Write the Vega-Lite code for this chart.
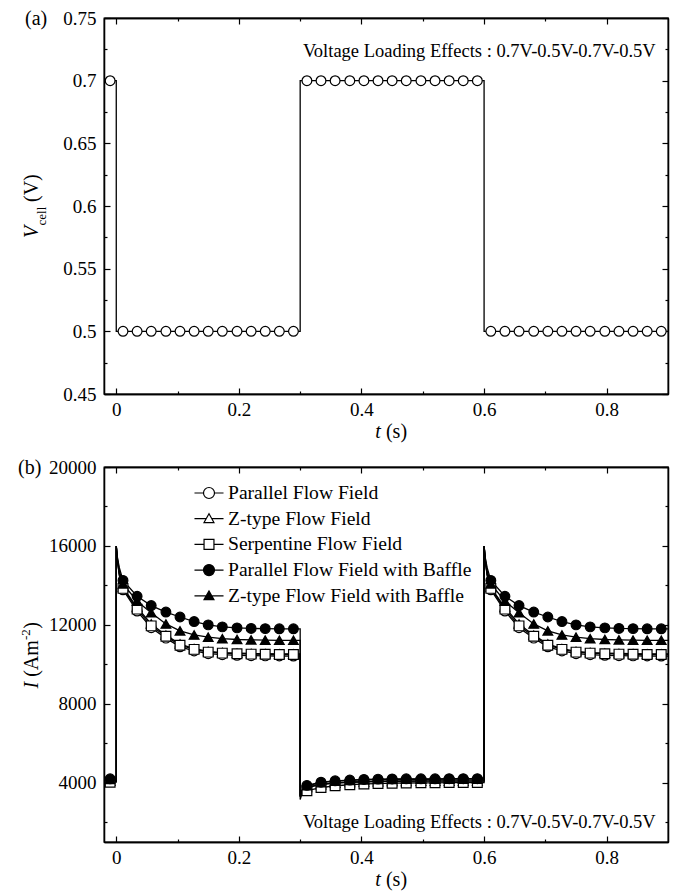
{
  "$schema": "https://vega.github.io/schema/vega-lite/v6.json",
  "background": "white",
  "padding": {"left": 17, "top": 8, "right": 10, "bottom": 5},
  "spacing": 14,
  "config": {
    "font": "Liberation Serif, Times New Roman, serif",
    "view": {"stroke": "black", "strokeWidth": 1.3},
    "axis": {
      "grid": false, "title": null,
      "labelFont": "Liberation Serif, Times New Roman, serif", "labelFontSize": 19, "labelColor": "black",
      "tickColor": "black", "tickWidth": 1.2,
      "domainColor": "black", "domainWidth": 1.3,
      "labelFlush": false, "labelOverlap": false
    },
    "text": {"font": "Liberation Serif, Times New Roman, serif"}
  },
  "datasets": {
    "vcell": [
      {"t": -0.01, "V": 0.7}, {"t": 0, "V": 0.7}, {"t": 0, "V": 0.5},
      {"t": 0.011, "V": 0.5}, {"t": 0.034, "V": 0.5}, {"t": 0.057, "V": 0.5}, {"t": 0.081, "V": 0.5},
      {"t": 0.104, "V": 0.5}, {"t": 0.127, "V": 0.5}, {"t": 0.15, "V": 0.5}, {"t": 0.173, "V": 0.5},
      {"t": 0.197, "V": 0.5}, {"t": 0.22, "V": 0.5}, {"t": 0.243, "V": 0.5}, {"t": 0.266, "V": 0.5},
      {"t": 0.289, "V": 0.5},
      {"t": 0.3, "V": 0.5}, {"t": 0.3, "V": 0.7},
      {"t": 0.311, "V": 0.7}, {"t": 0.334, "V": 0.7}, {"t": 0.357, "V": 0.7}, {"t": 0.381, "V": 0.7},
      {"t": 0.404, "V": 0.7}, {"t": 0.427, "V": 0.7}, {"t": 0.45, "V": 0.7}, {"t": 0.473, "V": 0.7},
      {"t": 0.497, "V": 0.7}, {"t": 0.52, "V": 0.7}, {"t": 0.543, "V": 0.7}, {"t": 0.566, "V": 0.7},
      {"t": 0.589, "V": 0.7},
      {"t": 0.6, "V": 0.7}, {"t": 0.6, "V": 0.5},
      {"t": 0.611, "V": 0.5}, {"t": 0.634, "V": 0.5}, {"t": 0.657, "V": 0.5}, {"t": 0.681, "V": 0.5},
      {"t": 0.704, "V": 0.5}, {"t": 0.727, "V": 0.5}, {"t": 0.75, "V": 0.5}, {"t": 0.773, "V": 0.5},
      {"t": 0.797, "V": 0.5}, {"t": 0.82, "V": 0.5}, {"t": 0.843, "V": 0.5}, {"t": 0.866, "V": 0.5},
      {"t": 0.889, "V": 0.5},
      {"t": 0.9, "V": 0.5}
    ],
    "current": [
      {"t": -0.01, "Parallel Flow Field": 4100, "Z-type Flow Field": 4080, "Serpentine Flow Field": 4030, "Parallel Flow Field with Baffle": 4200, "Z-type Flow Field with Baffle": 4170},
      {"t": 0, "Parallel Flow Field": 4100, "Z-type Flow Field": 4080, "Serpentine Flow Field": 4030, "Parallel Flow Field with Baffle": 4200, "Z-type Flow Field with Baffle": 4170},
      {"t": 0, "Parallel Flow Field": 16000, "Z-type Flow Field": 16000, "Serpentine Flow Field": 16000, "Parallel Flow Field with Baffle": 16000, "Z-type Flow Field with Baffle": 16000},
      {"t": 0.002, "Parallel Flow Field": 15200, "Z-type Flow Field": 15250, "Serpentine Flow Field": 15250, "Parallel Flow Field with Baffle": 15400, "Z-type Flow Field with Baffle": 15350},
      {"t": 0.005, "Parallel Flow Field": 14500, "Z-type Flow Field": 14600, "Serpentine Flow Field": 14550, "Parallel Flow Field with Baffle": 14900, "Z-type Flow Field with Baffle": 14750},
      {"t": 0.011, "Parallel Flow Field": 13780, "Z-type Flow Field": 13900, "Serpentine Flow Field": 13850, "Parallel Flow Field with Baffle": 14250, "Z-type Flow Field with Baffle": 14080},
      {"t": 0.034, "Parallel Flow Field": 12700, "Z-type Flow Field": 12880, "Serpentine Flow Field": 12800, "Parallel Flow Field with Baffle": 13450, "Z-type Flow Field with Baffle": 13200},
      {"t": 0.057, "Parallel Flow Field": 11860, "Z-type Flow Field": 12050, "Serpentine Flow Field": 11950, "Parallel Flow Field with Baffle": 12980, "Z-type Flow Field with Baffle": 12620},
      {"t": 0.081, "Parallel Flow Field": 11330, "Z-type Flow Field": 11480, "Serpentine Flow Field": 11420, "Parallel Flow Field with Baffle": 12650, "Z-type Flow Field with Baffle": 12050},
      {"t": 0.104, "Parallel Flow Field": 10890, "Z-type Flow Field": 11030, "Serpentine Flow Field": 10970, "Parallel Flow Field with Baffle": 12400, "Z-type Flow Field with Baffle": 11700},
      {"t": 0.127, "Parallel Flow Field": 10680, "Z-type Flow Field": 10800, "Serpentine Flow Field": 10760, "Parallel Flow Field with Baffle": 12170, "Z-type Flow Field with Baffle": 11490},
      {"t": 0.15, "Parallel Flow Field": 10540, "Z-type Flow Field": 10660, "Serpentine Flow Field": 10620, "Parallel Flow Field with Baffle": 12000, "Z-type Flow Field with Baffle": 11380},
      {"t": 0.173, "Parallel Flow Field": 10490, "Z-type Flow Field": 10600, "Serpentine Flow Field": 10570, "Parallel Flow Field with Baffle": 11900, "Z-type Flow Field with Baffle": 11300},
      {"t": 0.197, "Parallel Flow Field": 10460, "Z-type Flow Field": 10570, "Serpentine Flow Field": 10540, "Parallel Flow Field with Baffle": 11850, "Z-type Flow Field with Baffle": 11260},
      {"t": 0.22, "Parallel Flow Field": 10440, "Z-type Flow Field": 10550, "Serpentine Flow Field": 10520, "Parallel Flow Field with Baffle": 11820, "Z-type Flow Field with Baffle": 11240},
      {"t": 0.243, "Parallel Flow Field": 10430, "Z-type Flow Field": 10540, "Serpentine Flow Field": 10510, "Parallel Flow Field with Baffle": 11810, "Z-type Flow Field with Baffle": 11230},
      {"t": 0.266, "Parallel Flow Field": 10425, "Z-type Flow Field": 10535, "Serpentine Flow Field": 10505, "Parallel Flow Field with Baffle": 11800, "Z-type Flow Field with Baffle": 11220},
      {"t": 0.289, "Parallel Flow Field": 10420, "Z-type Flow Field": 10530, "Serpentine Flow Field": 10500, "Parallel Flow Field with Baffle": 11800, "Z-type Flow Field with Baffle": 11220},
      {"t": 0.3, "Parallel Flow Field": 10420, "Z-type Flow Field": 10530, "Serpentine Flow Field": 10500, "Parallel Flow Field with Baffle": 11800, "Z-type Flow Field with Baffle": 11220},
      {"t": 0.3, "Parallel Flow Field": 3300, "Z-type Flow Field": 3280, "Serpentine Flow Field": 3150, "Parallel Flow Field with Baffle": 3350, "Z-type Flow Field with Baffle": 3330},
      {"t": 0.302, "Parallel Flow Field": 3500, "Z-type Flow Field": 3480, "Serpentine Flow Field": 3350, "Parallel Flow Field with Baffle": 3560, "Z-type Flow Field with Baffle": 3540},
      {"t": 0.305, "Parallel Flow Field": 3650, "Z-type Flow Field": 3630, "Serpentine Flow Field": 3480, "Parallel Flow Field with Baffle": 3720, "Z-type Flow Field with Baffle": 3700},
      {"t": 0.311, "Parallel Flow Field": 3780, "Z-type Flow Field": 3760, "Serpentine Flow Field": 3600, "Parallel Flow Field with Baffle": 3870, "Z-type Flow Field with Baffle": 3850},
      {"t": 0.334, "Parallel Flow Field": 3930, "Z-type Flow Field": 3910, "Serpentine Flow Field": 3760, "Parallel Flow Field with Baffle": 4030, "Z-type Flow Field with Baffle": 4010},
      {"t": 0.357, "Parallel Flow Field": 4000, "Z-type Flow Field": 3980, "Serpentine Flow Field": 3850, "Parallel Flow Field with Baffle": 4100, "Z-type Flow Field with Baffle": 4080},
      {"t": 0.381, "Parallel Flow Field": 4040, "Z-type Flow Field": 4020, "Serpentine Flow Field": 3900, "Parallel Flow Field with Baffle": 4140, "Z-type Flow Field with Baffle": 4120},
      {"t": 0.404, "Parallel Flow Field": 4060, "Z-type Flow Field": 4040, "Serpentine Flow Field": 3940, "Parallel Flow Field with Baffle": 4170, "Z-type Flow Field with Baffle": 4150},
      {"t": 0.427, "Parallel Flow Field": 4080, "Z-type Flow Field": 4060, "Serpentine Flow Field": 3960, "Parallel Flow Field with Baffle": 4185, "Z-type Flow Field with Baffle": 4165},
      {"t": 0.45, "Parallel Flow Field": 4090, "Z-type Flow Field": 4070, "Serpentine Flow Field": 3980, "Parallel Flow Field with Baffle": 4195, "Z-type Flow Field with Baffle": 4175},
      {"t": 0.473, "Parallel Flow Field": 4095, "Z-type Flow Field": 4075, "Serpentine Flow Field": 3990, "Parallel Flow Field with Baffle": 4200, "Z-type Flow Field with Baffle": 4180},
      {"t": 0.497, "Parallel Flow Field": 4100, "Z-type Flow Field": 4080, "Serpentine Flow Field": 4000, "Parallel Flow Field with Baffle": 4200, "Z-type Flow Field with Baffle": 4180},
      {"t": 0.52, "Parallel Flow Field": 4100, "Z-type Flow Field": 4080, "Serpentine Flow Field": 4000, "Parallel Flow Field with Baffle": 4200, "Z-type Flow Field with Baffle": 4180},
      {"t": 0.543, "Parallel Flow Field": 4100, "Z-type Flow Field": 4080, "Serpentine Flow Field": 4010, "Parallel Flow Field with Baffle": 4205, "Z-type Flow Field with Baffle": 4185},
      {"t": 0.566, "Parallel Flow Field": 4100, "Z-type Flow Field": 4080, "Serpentine Flow Field": 4010, "Parallel Flow Field with Baffle": 4205, "Z-type Flow Field with Baffle": 4185},
      {"t": 0.589, "Parallel Flow Field": 4100, "Z-type Flow Field": 4080, "Serpentine Flow Field": 4010, "Parallel Flow Field with Baffle": 4205, "Z-type Flow Field with Baffle": 4185},
      {"t": 0.6, "Parallel Flow Field": 4100, "Z-type Flow Field": 4080, "Serpentine Flow Field": 4010, "Parallel Flow Field with Baffle": 4205, "Z-type Flow Field with Baffle": 4185},
      {"t": 0.6, "Parallel Flow Field": 16000, "Z-type Flow Field": 16000, "Serpentine Flow Field": 16000, "Parallel Flow Field with Baffle": 16000, "Z-type Flow Field with Baffle": 16000},
      {"t": 0.602, "Parallel Flow Field": 15200, "Z-type Flow Field": 15250, "Serpentine Flow Field": 15250, "Parallel Flow Field with Baffle": 15400, "Z-type Flow Field with Baffle": 15350},
      {"t": 0.605, "Parallel Flow Field": 14500, "Z-type Flow Field": 14600, "Serpentine Flow Field": 14550, "Parallel Flow Field with Baffle": 14900, "Z-type Flow Field with Baffle": 14750},
      {"t": 0.611, "Parallel Flow Field": 13780, "Z-type Flow Field": 13900, "Serpentine Flow Field": 13850, "Parallel Flow Field with Baffle": 14250, "Z-type Flow Field with Baffle": 14080},
      {"t": 0.634, "Parallel Flow Field": 12700, "Z-type Flow Field": 12880, "Serpentine Flow Field": 12800, "Parallel Flow Field with Baffle": 13450, "Z-type Flow Field with Baffle": 13200},
      {"t": 0.657, "Parallel Flow Field": 11860, "Z-type Flow Field": 12050, "Serpentine Flow Field": 11950, "Parallel Flow Field with Baffle": 12980, "Z-type Flow Field with Baffle": 12620},
      {"t": 0.681, "Parallel Flow Field": 11330, "Z-type Flow Field": 11480, "Serpentine Flow Field": 11420, "Parallel Flow Field with Baffle": 12650, "Z-type Flow Field with Baffle": 12050},
      {"t": 0.704, "Parallel Flow Field": 10890, "Z-type Flow Field": 11030, "Serpentine Flow Field": 10970, "Parallel Flow Field with Baffle": 12400, "Z-type Flow Field with Baffle": 11700},
      {"t": 0.727, "Parallel Flow Field": 10680, "Z-type Flow Field": 10800, "Serpentine Flow Field": 10760, "Parallel Flow Field with Baffle": 12170, "Z-type Flow Field with Baffle": 11490},
      {"t": 0.75, "Parallel Flow Field": 10540, "Z-type Flow Field": 10660, "Serpentine Flow Field": 10620, "Parallel Flow Field with Baffle": 12000, "Z-type Flow Field with Baffle": 11380},
      {"t": 0.773, "Parallel Flow Field": 10490, "Z-type Flow Field": 10600, "Serpentine Flow Field": 10570, "Parallel Flow Field with Baffle": 11900, "Z-type Flow Field with Baffle": 11300},
      {"t": 0.797, "Parallel Flow Field": 10460, "Z-type Flow Field": 10570, "Serpentine Flow Field": 10540, "Parallel Flow Field with Baffle": 11850, "Z-type Flow Field with Baffle": 11260},
      {"t": 0.82, "Parallel Flow Field": 10440, "Z-type Flow Field": 10550, "Serpentine Flow Field": 10520, "Parallel Flow Field with Baffle": 11820, "Z-type Flow Field with Baffle": 11240},
      {"t": 0.843, "Parallel Flow Field": 10430, "Z-type Flow Field": 10540, "Serpentine Flow Field": 10510, "Parallel Flow Field with Baffle": 11810, "Z-type Flow Field with Baffle": 11230},
      {"t": 0.866, "Parallel Flow Field": 10425, "Z-type Flow Field": 10535, "Serpentine Flow Field": 10505, "Parallel Flow Field with Baffle": 11800, "Z-type Flow Field with Baffle": 11220},
      {"t": 0.889, "Parallel Flow Field": 10420, "Z-type Flow Field": 10530, "Serpentine Flow Field": 10500, "Parallel Flow Field with Baffle": 11800, "Z-type Flow Field with Baffle": 11220},
      {"t": 0.9, "Parallel Flow Field": 10420, "Z-type Flow Field": 10530, "Serpentine Flow Field": 10500, "Parallel Flow Field with Baffle": 11800, "Z-type Flow Field with Baffle": 11220}
    ]
  },
  "vconcat": [
    {
      "width": 564,
      "height": 376,
      "resolve": {"axis": {"x": "independent", "y": "independent"}},
      "layer": [
        {
          "data": {"name": "vcell"},
          "mark": {"type": "line", "color": "black", "stroke": "black", "strokeWidth": 1.3},
          "encoding": {
            "x": {"field": "t", "type": "quantitative", "scale": {"domain": [-0.02, 0.9], "nice": false, "zero": false},
                  "axis": {"orient": "bottom", "values": [0, 0.2, 0.4, 0.6, 0.8], "format": "~g", "tickSize": -6, "labelPadding": 12}},
            "y": {"field": "V", "type": "quantitative", "scale": {"domain": [0.45, 0.75], "nice": false, "zero": false},
                  "axis": {"orient": "left", "values": [0.45, 0.5, 0.55, 0.6, 0.65, 0.7, 0.75], "format": "~g", "tickSize": -6, "labelPadding": 14}},
            "order": {"value": null}
          }
        },
        {
          "data": {"name": "vcell"},
          "transform": [{"filter": "indexof([0, 0.3, 0.6, 0.9], datum.t) < 0"}],
          "mark": {"type": "point", "shape": "circle", "filled": true, "fill": "white", "stroke": "black", "strokeWidth": 1.2, "size": 95, "opacity": 1},
          "encoding": {
            "x": {"field": "t", "type": "quantitative", "scale": {"domain": [-0.02, 0.9], "nice": false, "zero": false},
                  "axis": {"orient": "top", "values": [0, 0.2, 0.4, 0.6, 0.8], "labels": false, "tickSize": -6}},
            "y": {"field": "V", "type": "quantitative", "scale": {"domain": [0.45, 0.75], "nice": false, "zero": false},
                  "axis": {"orient": "right", "values": [0.45, 0.5, 0.55, 0.6, 0.65, 0.7, 0.75], "labels": false, "tickSize": -6}}
          }
        },
        {
          "data": {"values": [{}]},
          "mark": {"type": "text", "text": "Voltage Loading Effects : 0.7V-0.5V-0.7V-0.5V", "fontSize": 18.5, "align": "right", "baseline": "alphabetic", "fill": "black"},
          "encoding": {
            "x": {"datum": 0.88, "type": "quantitative", "scale": {"domain": [-0.02, 0.9], "nice": false, "zero": false},
                  "axis": {"orient": "bottom", "values": [0.1, 0.3, 0.5, 0.7], "labels": false, "tickSize": -3}},
            "y": {"datum": 0.719, "type": "quantitative", "scale": {"domain": [0.45, 0.75], "nice": false, "zero": false},
                  "axis": {"orient": "left", "values": [0.475, 0.525, 0.575, 0.625, 0.675, 0.725], "labels": false, "tickSize": -3}}
          }
        },
        {
          "data": {"values": [{}]},
          "mark": {"type": "text", "text": "(a)", "fontSize": 20, "align": "left", "baseline": "middle", "dx": -79, "dy": 1, "fill": "black"},
          "encoding": {
            "x": {"datum": -0.02, "type": "quantitative", "scale": {"domain": [-0.02, 0.9], "nice": false, "zero": false},
                  "axis": {"orient": "top", "values": [0.1, 0.3, 0.5, 0.7], "labels": false, "tickSize": -3}},
            "y": {"datum": 0.75, "type": "quantitative", "scale": {"domain": [0.45, 0.75], "nice": false, "zero": false},
                  "axis": {"orient": "right", "values": [0.475, 0.525, 0.575, 0.625, 0.675, 0.725], "labels": false, "tickSize": -3}}
          }
        },
        {
          "data": {"values": [{}]},
          "mark": {"type": "text", "text": "V", "fontStyle": "italic", "fontSize": 20, "angle": 270, "align": "left", "baseline": "alphabetic", "dx": -32, "dy": -66, "fill": "black"},
          "encoding": {
            "x": {"datum": -0.02, "type": "quantitative", "scale": {"domain": [-0.02, 0.9], "nice": false, "zero": false}, "axis": null},
            "y": {"datum": 0.6, "type": "quantitative", "scale": {"domain": [0.45, 0.75], "nice": false, "zero": false}, "axis": null}
          }
        },
        {
          "data": {"values": [{}]},
          "mark": {"type": "text", "text": "cell", "fontSize": 13, "angle": 270, "align": "left", "baseline": "alphabetic", "dx": -19.5, "dy": -58, "fill": "black"},
          "encoding": {
            "x": {"datum": -0.02, "type": "quantitative", "scale": {"domain": [-0.02, 0.9], "nice": false, "zero": false}, "axis": null},
            "y": {"datum": 0.6, "type": "quantitative", "scale": {"domain": [0.45, 0.75], "nice": false, "zero": false}, "axis": null}
          }
        },
        {
          "data": {"values": [{}]},
          "mark": {"type": "text", "text": "(V)", "fontSize": 20, "angle": 270, "align": "left", "baseline": "alphabetic", "dx": 4, "dy": -66, "fill": "black"},
          "encoding": {
            "x": {"datum": -0.02, "type": "quantitative", "scale": {"domain": [-0.02, 0.9], "nice": false, "zero": false}, "axis": null},
            "y": {"datum": 0.6, "type": "quantitative", "scale": {"domain": [0.45, 0.75], "nice": false, "zero": false}, "axis": null}
          }
        },
        {
          "data": {"values": [{}]},
          "mark": {"type": "text", "text": "t", "fontStyle": "italic", "fontSize": 20, "align": "right", "baseline": "alphabetic", "dx": -2, "dy": 44, "fill": "black"},
          "encoding": {
            "x": {"datum": 0.435, "type": "quantitative", "scale": {"domain": [-0.02, 0.9], "nice": false, "zero": false}, "axis": null},
            "y": {"datum": 0.45, "type": "quantitative", "scale": {"domain": [0.45, 0.75], "nice": false, "zero": false}, "axis": null}
          }
        },
        {
          "data": {"values": [{}]},
          "mark": {"type": "text", "text": "(s)", "fontSize": 20, "align": "left", "baseline": "alphabetic", "dx": 3, "dy": 44, "fill": "black"},
          "encoding": {
            "x": {"datum": 0.435, "type": "quantitative", "scale": {"domain": [-0.02, 0.9], "nice": false, "zero": false}, "axis": null},
            "y": {"datum": 0.45, "type": "quantitative", "scale": {"domain": [0.45, 0.75], "nice": false, "zero": false}, "axis": null}
          }
        }
      ]
    },
    {
      "width": 564,
      "height": 375,
      "resolve": {
        "scale": {"shape": "independent", "fill": "independent"},
        "axis": {"x": "independent", "y": "independent"}
      },
      "layer": [
        {
          "data": {"name": "current"},
          "transform": [{"fold": ["Parallel Flow Field", "Z-type Flow Field", "Serpentine Flow Field", "Parallel Flow Field with Baffle", "Z-type Flow Field with Baffle"], "as": ["series", "I"]}],
          "mark": {"type": "line", "color": "black", "stroke": "black", "strokeWidth": 1.3},
          "encoding": {
            "x": {"field": "t", "type": "quantitative", "scale": {"domain": [-0.02, 0.9], "nice": false, "zero": false},
                  "axis": {"orient": "bottom", "values": [0, 0.2, 0.4, 0.6, 0.8], "format": "~g", "tickSize": -6, "labelPadding": 12}},
            "y": {"field": "I", "type": "quantitative", "scale": {"domain": [1000, 20000], "nice": false, "zero": false},
                  "axis": {"orient": "left", "values": [4000, 8000, 12000, 16000, 20000], "format": "d", "tickSize": -6, "labelPadding": 14}},
            "detail": {"field": "series", "type": "nominal"},
            "order": {"value": null}
          }
        },
        {
          "data": {"name": "current"},
          "transform": [
            {"fold": ["Parallel Flow Field", "Z-type Flow Field", "Serpentine Flow Field", "Parallel Flow Field with Baffle", "Z-type Flow Field with Baffle"], "as": ["series", "I"]},
            {"filter": "indexof([0, 0.002, 0.005, 0.3, 0.302, 0.305, 0.6, 0.602, 0.605, 0.9], datum.t) < 0"}
          ],
          "mark": {"type": "point", "filled": true, "stroke": "black", "strokeWidth": 1.2, "size": 95, "opacity": 1},
          "encoding": {
            "x": {"field": "t", "type": "quantitative", "scale": {"domain": [-0.02, 0.9], "nice": false, "zero": false},
                  "axis": {"orient": "top", "values": [0, 0.2, 0.4, 0.6, 0.8], "labels": false, "tickSize": -6}},
            "y": {"field": "I", "type": "quantitative", "scale": {"domain": [1000, 20000], "nice": false, "zero": false},
                  "axis": {"orient": "right", "values": [4000, 8000, 12000, 16000, 20000], "labels": false, "tickSize": -6}},
            "shape": {"field": "series", "type": "nominal", "legend": null,
                      "scale": {"domain": ["Parallel Flow Field", "Z-type Flow Field", "Serpentine Flow Field", "Parallel Flow Field with Baffle", "Z-type Flow Field with Baffle"],
                                "range": ["circle", "triangle-up", "square", "circle", "triangle-up"]}},
            "fill": {"field": "series", "type": "nominal", "legend": null,
                     "scale": {"domain": ["Parallel Flow Field", "Z-type Flow Field", "Serpentine Flow Field", "Parallel Flow Field with Baffle", "Z-type Flow Field with Baffle"],
                               "range": ["white", "white", "white", "black", "black"]}}
          }
        },
        {
          "data": {"values": [{}]},
          "mark": {"type": "text", "text": "Voltage Loading Effects : 0.7V-0.5V-0.7V-0.5V", "fontSize": 18.5, "align": "right", "baseline": "alphabetic", "fill": "black"},
          "encoding": {
            "x": {"datum": 0.88, "type": "quantitative", "scale": {"domain": [-0.02, 0.9], "nice": false, "zero": false},
                  "axis": {"orient": "bottom", "values": [0.1, 0.3, 0.5, 0.7], "labels": false, "tickSize": -3}},
            "y": {"datum": 1700, "type": "quantitative", "scale": {"domain": [1000, 20000], "nice": false, "zero": false},
                  "axis": {"orient": "left", "values": [2000, 6000, 10000, 14000, 18000], "labels": false, "tickSize": -3}}
          }
        },
        {
          "data": {"values": [{}]},
          "mark": {"type": "text", "text": "(b)", "fontSize": 20, "align": "left", "baseline": "middle", "dx": -86, "dy": 1, "fill": "black"},
          "encoding": {
            "x": {"datum": -0.02, "type": "quantitative", "scale": {"domain": [-0.02, 0.9], "nice": false, "zero": false},
                  "axis": {"orient": "top", "values": [0.1, 0.3, 0.5, 0.7], "labels": false, "tickSize": -3}},
            "y": {"datum": 20000, "type": "quantitative", "scale": {"domain": [1000, 20000], "nice": false, "zero": false},
                  "axis": {"orient": "right", "values": [2000, 6000, 10000, 14000, 18000], "labels": false, "tickSize": -3}}
          }
        },
        {
          "data": {"values": [{}]},
          "mark": {"type": "text", "text": "I", "fontStyle": "italic", "fontSize": 20, "angle": 270, "align": "left", "baseline": "alphabetic", "dx": -34, "dy": -66, "fill": "black"},
          "encoding": {
            "x": {"datum": -0.02, "type": "quantitative", "scale": {"domain": [-0.02, 0.9], "nice": false, "zero": false}, "axis": null},
            "y": {"datum": 10500, "type": "quantitative", "scale": {"domain": [1000, 20000], "nice": false, "zero": false}, "axis": null}
          }
        },
        {
          "data": {"values": [{}]},
          "mark": {"type": "text", "text": "(Am", "fontSize": 20, "angle": 270, "align": "left", "baseline": "alphabetic", "dx": -22.3, "dy": -66, "fill": "black"},
          "encoding": {
            "x": {"datum": -0.02, "type": "quantitative", "scale": {"domain": [-0.02, 0.9], "nice": false, "zero": false}, "axis": null},
            "y": {"datum": 10500, "type": "quantitative", "scale": {"domain": [1000, 20000], "nice": false, "zero": false}, "axis": null}
          }
        },
        {
          "data": {"values": [{}]},
          "mark": {"type": "text", "text": "-2", "fontSize": 13, "angle": 270, "align": "left", "baseline": "alphabetic", "dx": 14.4, "dy": -74, "fill": "black"},
          "encoding": {
            "x": {"datum": -0.02, "type": "quantitative", "scale": {"domain": [-0.02, 0.9], "nice": false, "zero": false}, "axis": null},
            "y": {"datum": 10500, "type": "quantitative", "scale": {"domain": [1000, 20000], "nice": false, "zero": false}, "axis": null}
          }
        },
        {
          "data": {"values": [{}]},
          "mark": {"type": "text", "text": ")", "fontSize": 20, "angle": 270, "align": "left", "baseline": "alphabetic", "dx": 25.7, "dy": -66, "fill": "black"},
          "encoding": {
            "x": {"datum": -0.02, "type": "quantitative", "scale": {"domain": [-0.02, 0.9], "nice": false, "zero": false}, "axis": null},
            "y": {"datum": 10500, "type": "quantitative", "scale": {"domain": [1000, 20000], "nice": false, "zero": false}, "axis": null}
          }
        },
        {
          "data": {"values": [{}]},
          "mark": {"type": "text", "text": "t", "fontStyle": "italic", "fontSize": 20, "align": "right", "baseline": "alphabetic", "dx": -2, "dy": 44, "fill": "black"},
          "encoding": {
            "x": {"datum": 0.435, "type": "quantitative", "scale": {"domain": [-0.02, 0.9], "nice": false, "zero": false}, "axis": null},
            "y": {"datum": 1000, "type": "quantitative", "scale": {"domain": [1000, 20000], "nice": false, "zero": false}, "axis": null}
          }
        },
        {
          "data": {"values": [{}]},
          "mark": {"type": "text", "text": "(s)", "fontSize": 20, "align": "left", "baseline": "alphabetic", "dx": 3, "dy": 44, "fill": "black"},
          "encoding": {
            "x": {"datum": 0.435, "type": "quantitative", "scale": {"domain": [-0.02, 0.9], "nice": false, "zero": false}, "axis": null},
            "y": {"datum": 1000, "type": "quantitative", "scale": {"domain": [1000, 20000], "nice": false, "zero": false}, "axis": null}
          }
        },
        {
          "data": {"values": [
            {"series": "Parallel Flow Field"}, {"series": "Z-type Flow Field"}, {"series": "Serpentine Flow Field"},
            {"series": "Parallel Flow Field with Baffle"}, {"series": "Z-type Flow Field with Baffle"}
          ]},
          "transform": [{"filter": "false"}],
          "mark": {"type": "point", "filled": true, "stroke": "black", "strokeWidth": 1.2, "opacity": 1},
          "encoding": {
            "shape": {"field": "series", "type": "nominal",
                      "scale": {"domain": ["Parallel Flow Field", "Z-type Flow Field", "Serpentine Flow Field", "Parallel Flow Field with Baffle", "Z-type Flow Field with Baffle"],
                                "range": [
                                  "M-1.32,0H-0.5A0.5,0.5,0,1,1,0.5,0A0.5,0.5,0,1,1,-0.5,0M0.5,0H1.32",
                                  "M-1.32,0H-0.25M-0.45,0.35L0,-0.45L0.45,0.35ZM0.25,0H1.32",
                                  "M-1.32,0H-0.45M-0.45,-0.45H0.45V0.45H-0.45ZM0.45,0H1.32",
                                  "M-1.32,0H-0.5A0.5,0.5,0,1,1,0.5,0A0.5,0.5,0,1,1,-0.5,0M0.5,0H1.32",
                                  "M-1.32,0H-0.25M-0.45,0.35L0,-0.45L0.45,0.35ZM0.25,0H1.32"
                                ]},
                      "legend": {"orient": "none", "legendX": 93, "legendY": 14, "title": null, "padding": 0,
                                 "labelFont": "Liberation Serif, Times New Roman, serif", "labelFontSize": 19.6, "labelColor": "black", "labelOffset": 7, "labelLimit": 0,
                                 "symbolSize": 484, "symbolStrokeWidth": 1.2, "rowPadding": 3.7}},
            "fill": {"field": "series", "type": "nominal",
                     "scale": {"domain": ["Parallel Flow Field", "Z-type Flow Field", "Serpentine Flow Field", "Parallel Flow Field with Baffle", "Z-type Flow Field with Baffle"],
                               "range": ["white", "white", "white", "black", "black"]},
                     "legend": {"orient": "none", "legendX": 93, "legendY": 14, "title": null, "padding": 0,
                                "labelFont": "Liberation Serif, Times New Roman, serif", "labelFontSize": 19.6, "labelColor": "black", "labelOffset": 7, "labelLimit": 0,
                                "symbolSize": 484, "symbolStrokeWidth": 1.2, "rowPadding": 3.7}}
          }
        }
      ]
    }
  ]
}
